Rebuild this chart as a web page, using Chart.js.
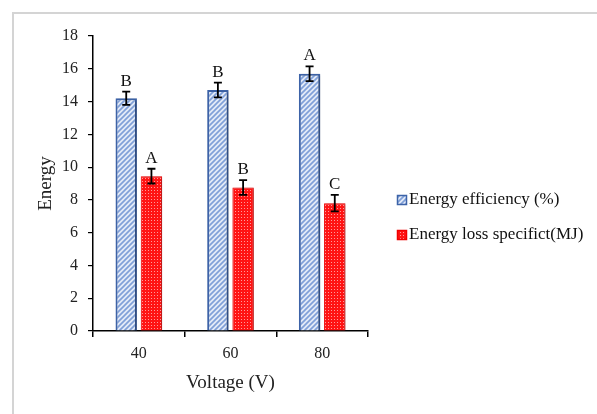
<!DOCTYPE html>
<html><head><meta charset="utf-8">
<script src="https://cdn.jsdelivr.net/npm/chart.js@4/dist/chart.umd.min.js"></script>
<style>html,body{margin:0;padding:0;background:#fff}#wrap{width:597px;height:414px;position:relative}</style>
</head><body><div id="wrap"><canvas id="c"></canvas></div>
<script>
const categories = ['40', '60', '80'];
const efficiency = [14.2, 14.7, 15.7];
const efficiencyErr = [0.4, 0.45, 0.45];
const lossSpecific = [9.45, 8.75, 7.8];
const lossErr = [0.45, 0.45, 0.5];
const efficiencyLetters = ['B', 'B', 'A'];
const lossLetters = ['A', 'B', 'C'];
const seriesLabels = ['Energy efficiency (%)', 'Energy loss specifict(MJ)'];
const yMin = 0, yMax = 18, yStep = 2;

const canvas = document.getElementById('c');
const ctx0 = canvas.getContext('2d');
const SERIF = '"Liberation Serif", "Times New Roman", serif';

function hatchPattern() {
  const c = document.createElement('canvas'); c.width = c.height = 5;
  const x = c.getContext('2d');
  x.fillStyle = '#e3eaf7'; x.fillRect(0, 0, 5, 5);
  x.strokeStyle = '#7f9fd8'; x.lineWidth = 1.7; x.lineCap = 'square';
  x.beginPath();
  x.moveTo(-1, 6); x.lineTo(6, -1);
  x.moveTo(-1, 1); x.lineTo(1, -1);
  x.moveTo(4, 6); x.lineTo(6, 4);
  x.stroke();
  return ctx0.createPattern(c, 'repeat');
}
function dotPattern() {
  const c = document.createElement('canvas'); c.width = c.height = 3;
  const x = c.getContext('2d');
  x.fillStyle = '#ff1414'; x.fillRect(0, 0, 3, 3);
  x.fillStyle = '#ff9a9a'; x.fillRect(1, 1, 1, 1);
  return ctx0.createPattern(c, 'repeat');
}
const bluePat = hatchPattern();
const redPat = dotPattern();
const errs = [efficiencyErr, lossErr];
const letters = [efficiencyLetters, lossLetters];
const borders = ['#3d63a8', '#f00000'];
const fills = [bluePat, redPat];

const deco = {
  id: 'deco',
  beforeDraw(chart) {
    const ctx = chart.ctx;
    ctx.save();
    ctx.fillStyle = '#ffffff'; ctx.fillRect(0, 0, chart.width, chart.height);
    ctx.strokeStyle = '#d4d4d4'; ctx.lineWidth = 2;
    ctx.strokeRect(13, 13, 800, 800);
    ctx.restore();
  },
  beforeDatasetsDraw(chart) {
    const ctx = chart.ctx;
    ctx.save();
    ctx.shadowColor = 'rgba(0,0,0,0.28)';
    ctx.shadowOffsetX = 2; ctx.shadowOffsetY = 1; ctx.shadowBlur = 3;
  },
  afterDatasetsDraw(chart) {
    const ctx = chart.ctx, y = chart.scales.y;
    ctx.restore();
    ctx.save();
    chart.data.datasets.forEach((ds, i) => {
      const meta = chart.getDatasetMeta(i);
      meta.data.forEach((bar, j) => {
        const v = ds.data[j], e = errs[i][j];
        const yt = y.getPixelForValue(v + e), yb = y.getPixelForValue(v - e);
        ctx.strokeStyle = '#000'; ctx.lineWidth = 1.8;
        ctx.beginPath();
        ctx.moveTo(bar.x, yt); ctx.lineTo(bar.x, yb);
        ctx.moveTo(bar.x - 4, yt); ctx.lineTo(bar.x + 4, yt);
        ctx.moveTo(bar.x - 4, yb); ctx.lineTo(bar.x + 4, yb);
        ctx.stroke();
        ctx.fillStyle = '#111';
        ctx.font = '17px ' + SERIF;
        ctx.textAlign = 'center'; ctx.textBaseline = 'alphabetic';
        ctx.fillText(letters[i][j], bar.x, yt - 6);
      });
    });
    ctx.restore();
  },
  afterDraw(chart) {
    const ctx = chart.ctx;
    ctx.save();
    const rows = [200, 235];
    chart.data.datasets.forEach((ds, i) => {
      const cy = rows[i];
      ctx.fillStyle = fills[i];
      ctx.fillRect(397, cy - 5, 10, 10);
      ctx.strokeStyle = borders[i]; ctx.lineWidth = 1.5;
      ctx.strokeRect(397.5, cy - 4.5, 9, 9);
      ctx.fillStyle = '#111';
      ctx.font = '17px ' + SERIF;
      ctx.textAlign = 'left'; ctx.textBaseline = 'middle';
      ctx.fillText(ds.label, 409, cy);
    });
    ctx.restore();
  }
};

new Chart(canvas, {
  type: 'bar',
  data: {
    labels: categories,
    datasets: [
      { label: seriesLabels[0], data: efficiency, backgroundColor: bluePat, borderColor: borders[0], borderWidth: 2 },
      { label: seriesLabels[1], data: lossSpecific, backgroundColor: redPat, borderColor: borders[1], borderWidth: 1 }
    ]
  },
  options: {
    responsive: true, maintainAspectRatio: false, animation: false,
    categoryPercentage: 0.55, barPercentage: 0.85,
    layout: { padding: { top: 36, right: 229, left: 0, bottom: 0 } },
    plugins: { legend: { display: false }, tooltip: { enabled: false } },
    scales: {
      x: {
        afterFit(s) { s.height = 83; },
        grid: { drawOnChartArea: false, drawTicks: true, tickLength: 6, color: '#000', lineWidth: 1.5, offset: true },
        border: { color: '#000', width: 1.5 },
        ticks: { color: '#222', font: { family: SERIF, size: 16 }, padding: 7 },
        title: { display: true, text: 'Voltage (V)', color: '#222', font: { family: SERIF, size: 19 }, padding: 20 }
      },
      y: {
        min: yMin, max: yMax,
        afterFit(s) { s.width = 93; },
        grid: { drawOnChartArea: false, drawTicks: true, tickLength: 5, color: '#000', lineWidth: 1.2 },
        border: { color: '#000', width: 1.5 },
        ticks: { stepSize: yStep, color: '#222', font: { family: SERIF, size: 16 }, padding: 10 },
        title: { display: true, text: 'Energy', color: '#222', font: { family: SERIF, size: 19 }, padding: 35 }
      }
    }
  },
  plugins: [deco]
});
</script></body></html>
